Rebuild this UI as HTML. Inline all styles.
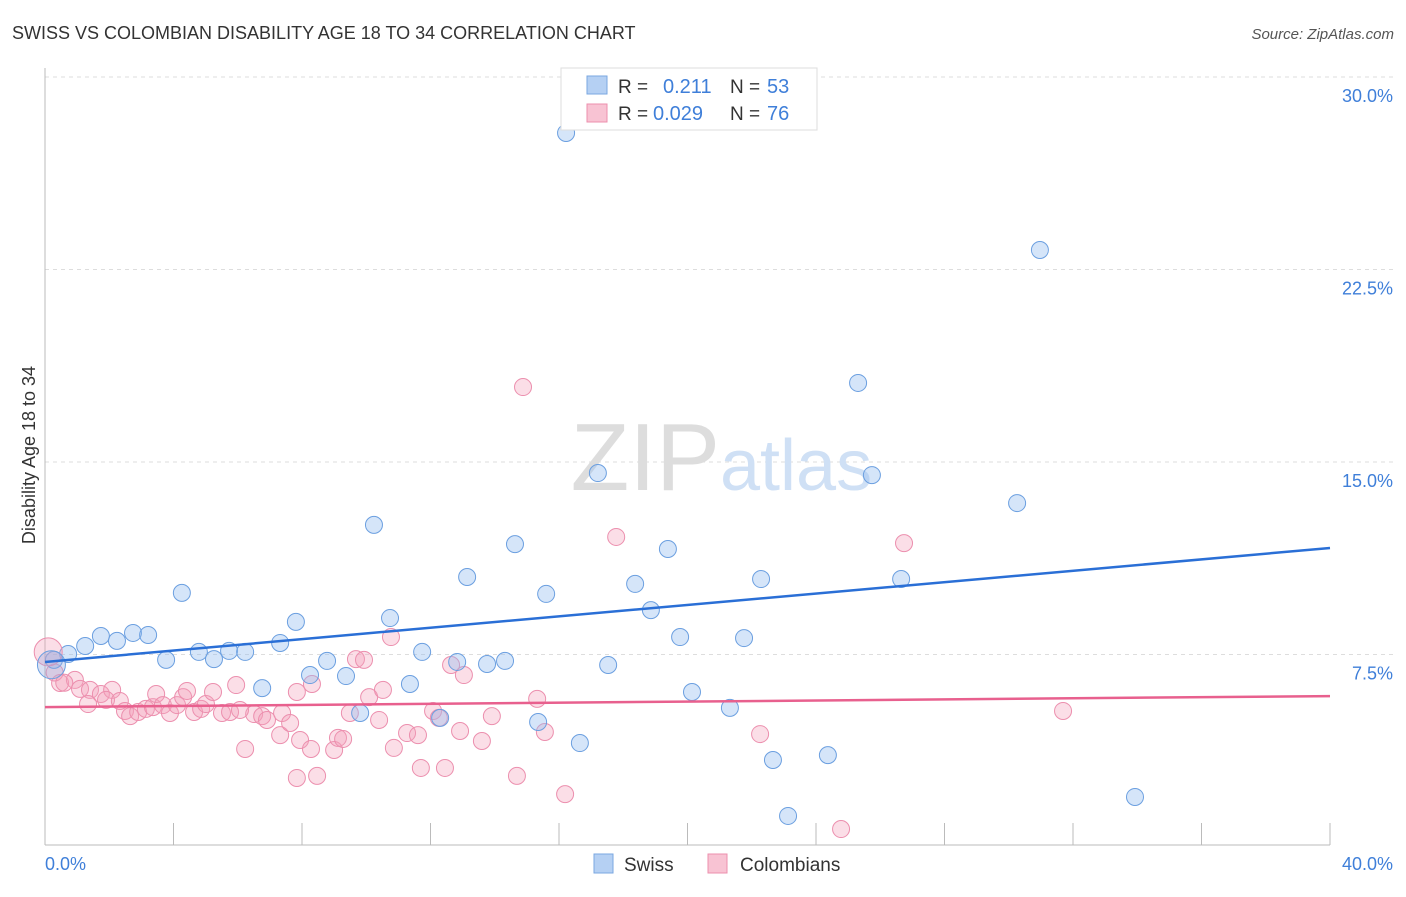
<!DOCTYPE html>
<html><head><meta charset="utf-8"><style>
body{margin:0;background:#fff;font-family:"Liberation Sans",sans-serif;}
svg text{font-family:"Liberation Sans",sans-serif;}
</style></head><body>
<svg id="chart" width="1406" height="892" xmlns="http://www.w3.org/2000/svg">
<text x="12" y="39" font-size="18" fill="#333">SWISS VS COLOMBIAN DISABILITY AGE 18 TO 34 CORRELATION CHART</text>
<text x="1394" y="39" font-size="15" fill="#555" font-style="italic" text-anchor="end">Source: ZipAtlas.com</text>
<text x="35" y="455" font-size="18" fill="#333" text-anchor="middle" transform="rotate(-90 35 455)">Disability Age 18 to 34</text>
<g id="grid"></g><g id="axes"></g>
<text x="720" y="490" font-size="96" fill="#ddd" font-family="Liberation Serif" text-anchor="end">ZIP</text>
<text x="720" y="490" font-size="72" fill="#cfe0f5">atlas</text>
<g id="pts"></g><g id="lines"></g>
<g>
<rect x="561" y="68" width="256" height="62" fill="#fff" stroke="#ddd"/>
<rect x="587" y="76" width="20" height="18" fill="#b5d0f3" stroke="#7aa7e0"/>
<rect x="587" y="104" width="20" height="18" fill="#f8c3d3" stroke="#ec8fae"/>
<text x="618" y="93" font-size="19" fill="#333">R = </text><text x="663" y="93" font-size="20" fill="#3f7fd9">0.211</text>
<text x="730" y="93" font-size="19" fill="#333">N = </text><text x="767" y="93" font-size="20" fill="#3f7fd9">53</text>
<text x="618" y="120" font-size="19" fill="#333">R = </text><text x="653" y="120" font-size="20" fill="#3f7fd9">0.029</text>
<text x="730" y="120" font-size="19" fill="#333">N = </text><text x="767" y="120" font-size="20" fill="#3f7fd9">76</text>
</g>
<g>
<rect x="594" y="854" width="19" height="19" fill="#b5d0f3" stroke="#7aa7e0"/>
<text x="624" y="871" font-size="19" fill="#333">Swiss</text>
<rect x="708" y="854" width="19" height="19" fill="#f8c3d3" stroke="#ec8fae"/>
<text x="740" y="871" font-size="19" fill="#333">Colombians</text>
</g>
</svg>
<script>
const yTicks=[7.5,15,22.5,30];
const yTickLabels=["7.5%","15.0%","22.5%","30.0%"];
const xTickLabels=["0.0%","40.0%"];
const swissX=[16.22,30.97,25.31,17.21,25.74,30.26,10.24,14.63,19.39,13.14,18.37,22.29,26.65,4.26,15.60,18.86,7.81,10.74,1.74,2.74,3.21,2.24,1.25,0.72,0.28,3.77,4.79,5.26,5.73,6.23,7.32,8.25,8.78,9.37,6.76,11.74,12.83,13.76,14.32,11.36,17.53,19.77,21.76,20.14,21.32,9.81,12.30,15.35,16.65,22.66,24.37,23.13,33.93];
const swissY=[27.82,23.26,18.08,14.57,14.49,13.40,12.55,11.80,11.61,10.52,10.25,10.44,10.44,9.90,9.86,9.23,8.77,8.92,8.22,8.34,8.26,8.03,7.83,7.52,7.29,7.29,7.60,7.32,7.64,7.60,7.95,6.70,7.25,6.66,6.19,7.60,7.21,7.13,7.25,6.35,7.09,8.18,8.14,6.04,5.42,5.22,5.03,4.87,4.05,3.39,3.58,1.21,1.95];
const colX=[14.88,17.78,26.74,31.69,0.47,0.93,1.09,1.40,1.74,2.09,1.90,2.33,1.34,2.49,2.65,2.90,3.14,3.36,3.46,3.67,3.89,4.11,4.30,4.42,4.64,4.86,5.01,5.23,5.51,5.76,5.95,6.23,6.51,6.76,6.91,7.32,7.38,7.63,7.84,7.94,7.84,8.28,8.47,8.31,9.00,9.12,9.28,9.68,9.93,9.49,10.09,10.40,10.52,10.77,10.86,11.27,11.61,11.70,12.08,12.45,12.64,12.92,13.04,13.60,13.91,14.69,15.32,15.56,16.19,22.26,24.78,12.26,6.07,0.3,0.6];
const colY=[17.92,12.08,11.84,5.30,6.39,6.51,6.16,6.12,5.96,6.12,5.73,5.69,5.57,5.30,5.10,5.26,5.38,5.45,5.96,5.53,5.22,5.53,5.84,6.08,5.26,5.38,5.57,6.04,5.22,5.26,6.31,3.82,5.18,5.10,4.95,4.36,5.22,4.83,6.04,4.17,2.69,3.82,2.77,6.35,3.78,4.25,4.21,7.32,7.29,5.22,5.84,4.95,6.12,8.18,3.86,4.44,4.36,3.08,5.30,3.08,7.09,4.52,6.70,4.13,5.10,2.77,5.77,4.48,2.06,4.40,0.70,5.03,5.34,6.8,6.4];
const swissTrend=[7.21,11.65];
const colTrend=[5.45,5.88];
const X=v=>45+v/40*1285, Y=v=>847-v/7.5*192.5;
const NS="http://www.w3.org/2000/svg";
function mk(tag,attrs,parent){const e=document.createElementNS(NS,tag);for(const k in attrs)e.setAttribute(k,attrs[k]);document.getElementById(parent).appendChild(e);return e;}
yTicks.forEach((t,i)=>{
 const l=mk('line',{x1:45,x2:1393,y1:Y(t),y2:Y(t),stroke:'#ddd','stroke-dasharray':'4,4'},'grid');
 
 
 const tx=mk('text',{x:1393,y:Y(t)+25,'font-size':18,fill:'#3f7fd9','text-anchor':'end'},'grid');tx.textContent=yTickLabels[i];
 
 
});
const ax=mk('line',{x1:45,x2:1330,y1:845,y2:845,stroke:'#bbb'},'axes');


const ay=mk('line',{x1:45,x2:45,y1:68,y2:845,stroke:'#bbb'},'axes');


for(let i=0;i<=10;i++){const t=mk('line',{x1:X(i*4),x2:X(i*4),y1:823,y2:845,stroke:'#bbb'},'axes');
 
 }
[[45,'start',0],[1393,'end',1]].forEach(([x,a,i])=>{const t=mk('text',{x:x,y:870,'font-size':18,fill:'#3f7fd9','text-anchor':a},'axes');t.textContent=xTickLabels[i];
 
 });
colX.forEach((v,i)=>{const c=mk('circle',{cx:X(v),cy:Y(colY[i]),r:8.5,fill:'rgba(244,160,186,0.35)',stroke:'#ec8fae','stroke-width':1},'pts');
 
 });
swissX.forEach((v,i)=>{const c=mk('circle',{cx:X(v),cy:Y(swissY[i]),r:8.5,fill:'rgba(150,190,240,0.4)',stroke:'#6b9fe0','stroke-width':1},'pts');
 
 });
const big1=mk('circle',{cx:X(0.1),cy:Y(7.6),r:14,fill:'rgba(244,160,186,0.35)',stroke:'#ec8fae'},'pts');


const big2=mk('circle',{cx:X(0.2),cy:Y(7.1),r:14,fill:'rgba(150,170,220,0.35)',stroke:'#6b9fe0'},'pts');


const l1=mk('line',{x1:X(0),x2:X(40),y1:Y(swissTrend[0]),y2:Y(swissTrend[1]),stroke:'#2a6fd6','stroke-width':2.5},'lines');


const l2=mk('line',{x1:X(0),x2:X(40),y1:Y(colTrend[0]),y2:Y(colTrend[1]),stroke:'#e8608e','stroke-width':2.5},'lines');


</script>
</body></html>
